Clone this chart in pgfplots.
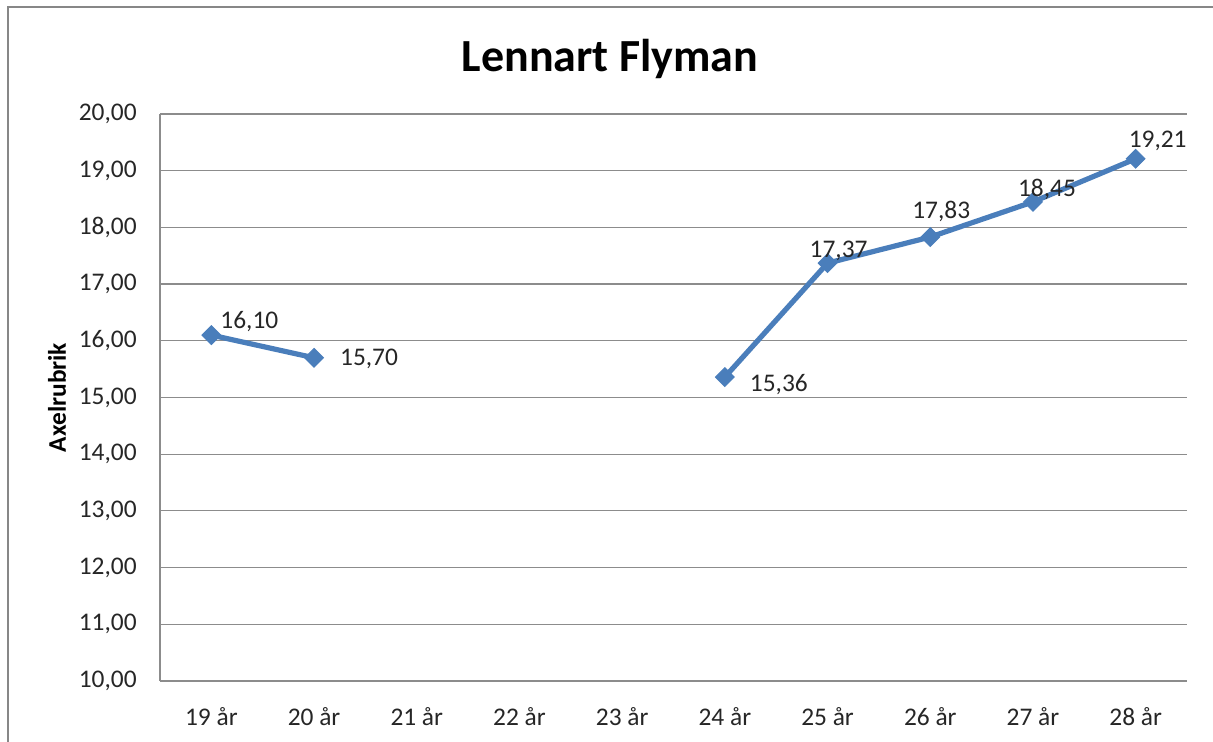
\documentclass[border=0pt]{standalone}
\usepackage{fontspec}
\setmainfont{Carlito}
\usepackage{pgfplots}
\pgfplotsset{compat=1.18}
\usepackage{pgfplotstable}
\definecolor{serie}{HTML}{4A7EBB}
\definecolor{gridgray}{HTML}{8C8C8C}
\definecolor{framegray}{HTML}{878787}

% x = category index, dx/dy = label offset in pt
\pgfplotstableread{
x y dx dy
0 16.10 19 7
1 15.70 27.5 -0.5
2 nan 0 0
3 nan 0 0
4 nan 0 0
5 15.36 27 -3.5
6 17.37 5.5 6
7 17.83 5.5 13
8 18.45 7 6
9 19.21 11 9
}\flyman

\begin{document}
\begin{tikzpicture}[x=1pt,y=1pt]
\path[use as bounding box] (0,0) rectangle (606.5,371);
\draw[framegray, line width=1.2pt] (4,0) -- (4,367.5) -- (606.5,367.5);
\node[font=\bfseries\fontsize{23}{27}\selectfont, anchor=base] at (305,335) {Lennart Flyman};
\begin{axis}[
  at={(80pt,30.5pt)}, anchor=south west,
  scale only axis,
  width=513.5pt, height=283.5pt,
  xmin=-0.5, xmax=9.5,
  ymin=10, ymax=20,
  enlargelimits=false,
  xtick={0,1,2,3,4,5,6,7,8,9},
  xticklabels={19 år,20 år,21 år,22 år,23 år,24 år,25 år,26 år,27 år,28 år},
  ytick={10,11,12,13,14,15,16,17,18,19,20},
  axis x line*=bottom, axis y line*=left,
  axis line style={-, gridgray, line width=0.7pt},
  every outer x axis line/.append style={-},
  every outer y axis line/.append style={-},
  xtick style={draw=none}, ytick style={draw=none},
  ymajorgrids, grid style={gridgray, line width=0.6pt},
  tick label style={font=\fontsize{12.7}{15}\selectfont, text=black!85},
  yticklabel style={anchor=east, inner sep=0pt, xshift=-11.5pt},
  xticklabel style={anchor=north, inner sep=0pt, yshift=-13pt},
  ylabel={Axelrubrik},
  ylabel style={at={(axis description cs:-0.1003,0.5)}, anchor=center, font=\bfseries\fontsize{12.7}{15}\selectfont},
  /pgf/number format/fixed,
  /pgf/number format/fixed zerofill,
  /pgf/number format/precision=2,
  /pgf/number format/use comma,
  /pgf/number format/assume math mode=true,
  unbounded coords=jump,
  clip=false,
]
\addplot[serie, line width=2.6pt, mark=square*, mark size=3.3pt,
  mark options={rotate=45, solid, fill=serie, draw=serie, line width=0.5pt},
  visualization depends on={\thisrow{dx} \as \dx},
  visualization depends on={\thisrow{dy} \as \dy},
  nodes near coords,
  nodes near coords style={anchor=center, inner sep=0pt, xshift=\dx pt, yshift=\dy pt,
    font=\fontsize{12.7}{15}\selectfont, text=black!85}]
  table[x=x, y=y] {\flyman};
\end{axis}
\end{tikzpicture}
\end{document}
